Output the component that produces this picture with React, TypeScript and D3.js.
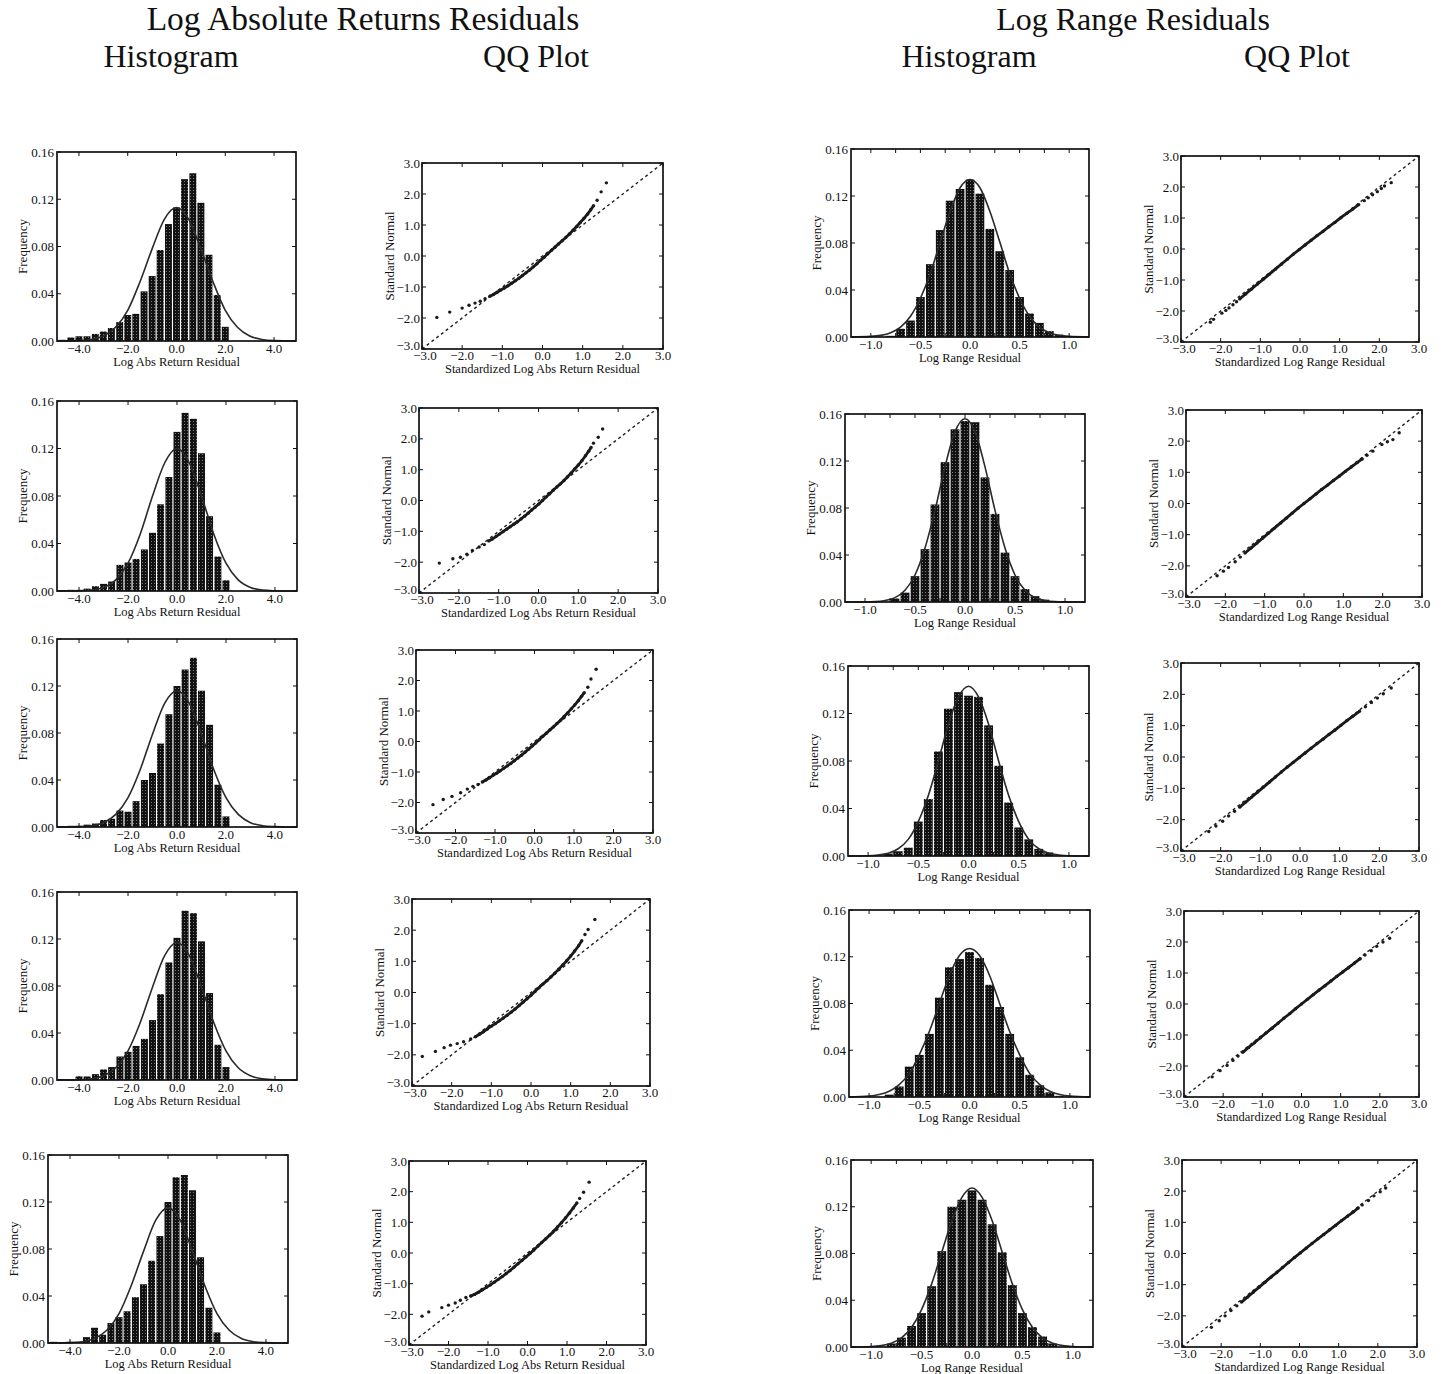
import React from "react";
import * as d3 from "d3";

// ---- histogram data: Log Absolute Returns (bins of 1/3) ----
const absBins = [-4.67, -4.33, -4.0, -3.67, -3.33, -3.0, -2.67, -2.33, -2.0, -1.67, -1.33, -1.0, -0.67, -0.33, 0.0, 0.33, 0.67, 1.0, 1.33, 1.67, 2.0];
const absFreq1 = [0.001, 0.003, 0.004, 0.004, 0.006, 0.008, 0.011, 0.016, 0.022, 0.023, 0.042, 0.055, 0.077, 0.099, 0.113, 0.137, 0.142, 0.117, 0.073, 0.039, 0.012];
const absFreq2 = [0.0006, 0.001, 0.001, 0.002, 0.004, 0.006, 0.008, 0.022, 0.024, 0.027, 0.035, 0.049, 0.073, 0.096, 0.134, 0.15, 0.145, 0.116, 0.063, 0.029, 0.009];
const absFreq3 = [0.0006, 0.001, 0.001, 0.002, 0.003, 0.006, 0.007, 0.014, 0.013, 0.022, 0.04, 0.046, 0.071, 0.096, 0.12, 0.134, 0.144, 0.116, 0.087, 0.036, 0.009];
const absFreq4 = [0.0005, 0.0005, 0.003, 0.003, 0.005, 0.009, 0.011, 0.02, 0.024, 0.029, 0.035, 0.051, 0.073, 0.1, 0.121, 0.144, 0.142, 0.118, 0.074, 0.03, 0.011];
const absFreq5 = [0.001, 0.0005, 0.001, 0.001, 0.005, 0.013, 0.007, 0.017, 0.022, 0.027, 0.039, 0.05, 0.07, 0.091, 0.12, 0.141, 0.143, 0.13, 0.073, 0.03, 0.009];

// fitted normal curve
const absCurveX = [-4.9, -4.5, -4.0, -3.5, -3.0, -2.5, -2.0, -1.5, -1.0, -0.5, 0.0, 0.5, 1.0, 1.5, 2.0, 2.5, 3.0, 3.5, 4.0, 4.5, 4.9];
const absCurve1 = [0, 0.0001, 0.0003, 0.0013, 0.0042, 0.0116, 0.026, 0.05, 0.078, 0.103, 0.113, 0.103, 0.078, 0.05, 0.026, 0.0116, 0.0042, 0.0013, 0.0003, 0.0001, 0];
const absCurve2 = [0, 0, 0.0002, 0.0008, 0.003, 0.0094, 0.0234, 0.048, 0.08, 0.108, 0.12, 0.108, 0.08, 0.048, 0.0234, 0.0094, 0.003, 0.0008, 0.0002, 0, 0];
const absCurve3 = [0, 0, 0.0003, 0.0011, 0.0037, 0.0107, 0.025, 0.049, 0.079, 0.1055, 0.116, 0.1055, 0.079, 0.049, 0.025, 0.0107, 0.0037, 0.0011, 0.0003, 0, 0];
const absCurve4 = [0, 0, 0.0002, 0.001, 0.0036, 0.0104, 0.0248, 0.049, 0.079, 0.106, 0.117, 0.106, 0.079, 0.049, 0.0248, 0.0104, 0.0036, 0.001, 0.0002, 0, 0];
const absCurve5 = [0, 0, 0.0003, 0.0011, 0.0038, 0.0108, 0.025, 0.049, 0.078, 0.1045, 0.115, 0.1045, 0.078, 0.049, 0.025, 0.0108, 0.0038, 0.0011, 0.0003, 0, 0];

// ---- histogram data: Log Range (bins of 0.1) ----
const rangeBins = [-0.8, -0.7, -0.6, -0.5, -0.4, -0.3, -0.2, -0.1, 0.0, 0.1, 0.2, 0.3, 0.4, 0.5, 0.6, 0.7, 0.8, 0.9];
const rangeFreq1 = [0.001, 0.007, 0.014, 0.034, 0.062, 0.091, 0.116, 0.126, 0.134, 0.122, 0.092, 0.073, 0.057, 0.034, 0.02, 0.012, 0.005, 0.002];
const rangeFreq2 = [0.0, 0.003, 0.008, 0.022, 0.045, 0.083, 0.119, 0.147, 0.154, 0.153, 0.106, 0.075, 0.042, 0.022, 0.011, 0.005, 0.002, 0.0];
const rangeFreq3 = [0.002, 0.004, 0.007, 0.029, 0.048, 0.088, 0.124, 0.138, 0.135, 0.134, 0.11, 0.076, 0.045, 0.024, 0.014, 0.006, 0.003, 0.0];
const rangeFreq4 = [0.002, 0.009, 0.026, 0.036, 0.054, 0.085, 0.111, 0.118, 0.124, 0.119, 0.096, 0.077, 0.054, 0.034, 0.019, 0.01, 0.004, 0.001];
const rangeFreq5 = [0.003, 0.008, 0.018, 0.029, 0.052, 0.082, 0.12, 0.126, 0.134, 0.126, 0.105, 0.081, 0.053, 0.029, 0.017, 0.009, 0.003, 0.0];

const rangeCurveX = [-1.2, -1.0, -0.9, -0.8, -0.7, -0.6, -0.5, -0.4, -0.3, -0.2, -0.1, 0.0, 0.1, 0.2, 0.3, 0.4, 0.5, 0.6, 0.7, 0.8, 0.9, 1.0, 1.2];
const rangeCurve1 = [0, 0.0005, 0.0014, 0.0037, 0.0085, 0.0177, 0.033, 0.054, 0.081, 0.107, 0.127, 0.134, 0.127, 0.107, 0.081, 0.054, 0.033, 0.0177, 0.0085, 0.0037, 0.0014, 0.0005, 0];
const rangeCurve2 = [0, 0.0001, 0.0003, 0.0012, 0.0037, 0.01, 0.023, 0.046, 0.078, 0.115, 0.145, 0.156, 0.145, 0.115, 0.078, 0.046, 0.023, 0.01, 0.0037, 0.0012, 0.0003, 0.0001, 0];
const rangeCurve3 = [0, 0.0002, 0.0008, 0.0023, 0.0061, 0.014, 0.029, 0.051, 0.08, 0.111, 0.134, 0.143, 0.134, 0.111, 0.08, 0.051, 0.029, 0.014, 0.0061, 0.0023, 0.0008, 0.0002, 0];
const rangeCurve4 = [0.0001, 0.0008, 0.0021, 0.0049, 0.0106, 0.02, 0.036, 0.056, 0.08, 0.104, 0.121, 0.127, 0.121, 0.104, 0.08, 0.056, 0.036, 0.02, 0.0106, 0.0049, 0.0021, 0.0008, 0.0001];
const rangeCurve5 = [0, 0.0004, 0.0012, 0.0033, 0.0078, 0.0167, 0.032, 0.054, 0.081, 0.108, 0.128, 0.136, 0.128, 0.108, 0.081, 0.054, 0.032, 0.0167, 0.0078, 0.0033, 0.0012, 0.0004, 0];

// ---- QQ data: Log Absolute Returns ----
const absQQTail1 = [[-2.63, -1.98], [-2.31, -1.81], [-2.0, -1.68], [-1.83, -1.59], [-1.68, -1.52], [-1.55, -1.46], [-1.43, -1.38], [1.36, 1.8], [1.46, 2.07], [1.59, 2.36]];
const absQQBody1 = [[-1.31, -1.3], [-1.22, -1.24], [-1.13, -1.17], [-1.04, -1.1], [-0.95, -1.03], [-0.86, -0.96], [-0.77, -0.88], [-0.68, -0.8], [-0.59, -0.72], [-0.5, -0.63], [-0.41, -0.54], [-0.32, -0.45], [-0.23, -0.35], [-0.14, -0.25], [-0.05, -0.14], [0.04, -0.04], [0.13, 0.07], [0.22, 0.18], [0.31, 0.28], [0.4, 0.39], [0.49, 0.49], [0.58, 0.6], [0.67, 0.71], [0.76, 0.83], [0.85, 0.95], [0.94, 1.08], [1.03, 1.21], [1.12, 1.35], [1.2, 1.49], [1.27, 1.62]];
const absQQTail2 = [[-2.49, -2.03], [-2.15, -1.89], [-1.96, -1.84], [-1.8, -1.74], [-1.66, -1.62], [-1.49, -1.51], [-1.36, -1.43], [1.38, 1.86], [1.5, 2.05], [1.61, 2.32]];
const absQQBody2 = [[-1.25, -1.31], [-1.16, -1.25], [-1.07, -1.17], [-0.98, -1.09], [-0.89, -1.01], [-0.8, -0.93], [-0.71, -0.85], [-0.62, -0.77], [-0.53, -0.69], [-0.44, -0.6], [-0.35, -0.51], [-0.26, -0.41], [-0.17, -0.31], [-0.08, -0.21], [0.01, -0.11], [0.1, 0.0], [0.19, 0.11], [0.28, 0.22], [0.37, 0.33], [0.46, 0.44], [0.55, 0.54], [0.64, 0.65], [0.73, 0.77], [0.82, 0.89], [0.91, 1.02], [1.0, 1.15], [1.09, 1.29], [1.18, 1.45], [1.26, 1.6], [1.32, 1.72]];
const absQQTail3 = [[-2.57, -2.07], [-2.31, -1.9], [-2.09, -1.8], [-1.87, -1.68], [-1.7, -1.56], [-1.56, -1.47], [-1.43, -1.41], [1.35, 1.78], [1.43, 2.05], [1.56, 2.37]];
const absQQBody3 = [[-1.32, -1.33], [-1.23, -1.26], [-1.14, -1.19], [-1.05, -1.11], [-0.96, -1.04], [-0.87, -0.96], [-0.78, -0.88], [-0.69, -0.8], [-0.6, -0.72], [-0.51, -0.63], [-0.42, -0.54], [-0.33, -0.45], [-0.24, -0.35], [-0.15, -0.25], [-0.06, -0.15], [0.03, -0.05], [0.12, 0.06], [0.21, 0.17], [0.3, 0.27], [0.39, 0.38], [0.48, 0.48], [0.57, 0.59], [0.66, 0.7], [0.75, 0.82], [0.84, 0.94], [0.93, 1.07], [1.02, 1.2], [1.11, 1.34], [1.19, 1.48], [1.26, 1.6]];
const absQQTail4 = [[-2.74, -2.05], [-2.41, -1.89], [-2.19, -1.77], [-2.03, -1.69], [-1.86, -1.64], [-1.7, -1.58], [-1.52, -1.49], [1.36, 1.86], [1.44, 2.02], [1.61, 2.34]];
const absQQBody4 = [[-1.4, -1.42], [-1.3, -1.34], [-1.2, -1.26], [-1.1, -1.17], [-1.0, -1.08], [-0.9, -1.0], [-0.8, -0.91], [-0.7, -0.82], [-0.6, -0.73], [-0.5, -0.63], [-0.4, -0.53], [-0.3, -0.42], [-0.2, -0.31], [-0.1, -0.2], [0.0, -0.09], [0.1, 0.03], [0.2, 0.15], [0.3, 0.27], [0.4, 0.38], [0.5, 0.5], [0.6, 0.62], [0.7, 0.75], [0.8, 0.88], [0.9, 1.02], [1.0, 1.17], [1.1, 1.33], [1.2, 1.5], [1.28, 1.66]];
const absQQTail5 = [[-2.67, -2.06], [-2.5, -1.92], [-2.17, -1.78], [-2.0, -1.7], [-1.83, -1.63], [-1.7, -1.54], [-1.56, -1.45], [1.32, 1.78], [1.42, 1.98], [1.56, 2.31]];
const absQQBody5 = [[-1.44, -1.4], [-1.34, -1.35], [-1.24, -1.28], [-1.14, -1.2], [-1.04, -1.12], [-0.94, -1.04], [-0.84, -0.95], [-0.74, -0.86], [-0.64, -0.77], [-0.54, -0.67], [-0.44, -0.57], [-0.34, -0.46], [-0.24, -0.35], [-0.14, -0.24], [-0.04, -0.13], [0.06, -0.02], [0.16, 0.1], [0.26, 0.22], [0.36, 0.34], [0.46, 0.46], [0.56, 0.58], [0.66, 0.71], [0.76, 0.85], [0.86, 0.99], [0.96, 1.14], [1.06, 1.3], [1.16, 1.47], [1.25, 1.63]];

// ---- QQ data: Log Range ----
const rangeQQTail1 = [[-2.26, -2.36], [-2.18, -2.27], [-1.97, -2.07], [-1.87, -1.98], [-1.79, -1.9], [-1.69, -1.8], [-1.6, -1.7], [1.62, 1.56], [1.72, 1.65], [1.83, 1.75], [1.95, 1.85], [2.05, 1.95], [2.13, 2.03], [2.3, 2.14]];
const rangeQQBody1 = [[-1.52, -1.61], [-1.37, -1.45], [-1.22, -1.29], [-1.07, -1.13], [-0.92, -0.97], [-0.77, -0.81], [-0.62, -0.65], [-0.47, -0.49], [-0.32, -0.33], [-0.17, -0.17], [-0.02, -0.02], [0.13, 0.13], [0.28, 0.28], [0.43, 0.43], [0.58, 0.57], [0.73, 0.72], [0.88, 0.86], [1.03, 1.01], [1.18, 1.15], [1.33, 1.29], [1.48, 1.43]];
const rangeQQTail2 = [[-2.21, -2.32], [-2.05, -2.17], [-1.92, -2.05], [-1.75, -1.87], [-1.62, -1.72], [1.6, 1.55], [1.75, 1.68], [1.98, 1.89], [2.12, 1.98], [2.26, 2.05], [2.42, 2.27]];
const rangeQQBody2 = [[-1.5, -1.59], [-1.35, -1.43], [-1.2, -1.27], [-1.05, -1.11], [-0.9, -0.95], [-0.75, -0.79], [-0.6, -0.63], [-0.45, -0.47], [-0.3, -0.31], [-0.15, -0.15], [0.0, 0.0], [0.15, 0.15], [0.3, 0.3], [0.45, 0.45], [0.6, 0.59], [0.75, 0.74], [0.9, 0.88], [1.05, 1.03], [1.2, 1.17], [1.35, 1.31], [1.48, 1.43]];
const rangeQQTail3 = [[-2.3, -2.38], [-2.12, -2.2], [-1.95, -2.05], [-1.8, -1.88], [-1.65, -1.73], [1.65, 1.6], [1.8, 1.74], [1.95, 1.88], [2.1, 2.02], [2.3, 2.2]];
const rangeQQBody3 = [[-1.52, -1.6], [-1.37, -1.44], [-1.22, -1.28], [-1.07, -1.12], [-0.92, -0.96], [-0.77, -0.8], [-0.62, -0.64], [-0.47, -0.48], [-0.32, -0.32], [-0.17, -0.17], [-0.02, -0.02], [0.13, 0.13], [0.28, 0.28], [0.43, 0.43], [0.58, 0.57], [0.73, 0.72], [0.88, 0.86], [1.03, 1.01], [1.18, 1.16], [1.33, 1.3], [1.5, 1.46]];
const rangeQQTail4 = [[-2.28, -2.35], [-2.08, -2.15], [-1.9, -1.98], [-1.75, -1.82], [-1.62, -1.68], [1.62, 1.58], [1.78, 1.72], [1.92, 1.86], [2.08, 2.0], [2.25, 2.12]];
const rangeQQBody4 = [[-1.5, -1.56], [-1.35, -1.4], [-1.2, -1.25], [-1.05, -1.09], [-0.9, -0.93], [-0.75, -0.78], [-0.6, -0.62], [-0.45, -0.46], [-0.3, -0.31], [-0.15, -0.15], [0.0, 0.0], [0.15, 0.15], [0.3, 0.3], [0.45, 0.45], [0.6, 0.59], [0.75, 0.74], [0.9, 0.89], [1.05, 1.03], [1.2, 1.17], [1.35, 1.32], [1.5, 1.46]];
const rangeQQTail5 = [[-2.25, -2.37], [-2.05, -2.16], [-1.9, -2.0], [-1.75, -1.83], [-1.6, -1.68], [1.6, 1.56], [1.76, 1.7], [1.9, 1.85], [2.06, 1.98], [2.2, 2.1]];
const rangeQQBody5 = [[-1.48, -1.56], [-1.33, -1.4], [-1.18, -1.24], [-1.03, -1.08], [-0.88, -0.92], [-0.73, -0.76], [-0.58, -0.61], [-0.43, -0.45], [-0.28, -0.29], [-0.13, -0.13], [0.02, 0.02], [0.17, 0.17], [0.32, 0.32], [0.47, 0.47], [0.62, 0.61], [0.77, 0.76], [0.92, 0.9], [1.07, 1.05], [1.22, 1.19], [1.37, 1.33], [1.5, 1.46]];

// ---- ticks ----
const freqTicks = [0, 0.04, 0.08, 0.12, 0.16];
const absHistTicks = [-4, -2, 0, 2, 4];
const rangeHistTicks = [-1, -0.5, 0, 0.5, 1];
const rangeHistMinor = [-1, -0.75, -0.5, -0.25, 0, 0.25, 0.5, 0.75, 1];
const qqTicks = [-3, -2, -1, 0, 1, 2, 3];
const qqRefLine = [-3, 3];

// ---- layout ----
const absHistBoxes = [
  { x: 57, y: 152, w: 239, h: 189 },
  { x: 57, y: 401, w: 240, h: 190 },
  { x: 57, y: 639, w: 240, h: 188 },
  { x: 57, y: 892, w: 240, h: 188 },
  { x: 48, y: 1155, w: 240, h: 188 },
];
const absQQBoxes = [
  { x: 422, y: 163, w: 241, h: 186 },
  { x: 419, y: 408, w: 239, h: 185 },
  { x: 416, y: 650, w: 237, h: 183 },
  { x: 412, y: 899, w: 238, h: 187 },
  { x: 409, y: 1161, w: 237, h: 184 },
];
const rangeHistBoxes = [
  { x: 851, y: 149, w: 238, h: 188 },
  { x: 845, y: 414, w: 240, h: 188 },
  { x: 848, y: 666, w: 241, h: 190 },
  { x: 849, y: 910, w: 241, h: 187 },
  { x: 851, y: 1160, w: 242, h: 187 },
];
const rangeQQBoxes = [
  { x: 1181, y: 156, w: 238, h: 186 },
  { x: 1186, y: 410, w: 236, h: 187 },
  { x: 1181, y: 663, w: 238, h: 188 },
  { x: 1184, y: 911, w: 235, h: 186 },
  { x: 1182, y: 1160, w: 235, h: 187 },
];

const FONT = "'Liberation Serif', 'Times New Roman', serif";
const INK = "#111";

const fmt1 = (t: number) => (t < 0 ? "\u2212" : "") + Math.abs(t).toFixed(1);

type Box = { x: number; y: number; w: number; h: number };

function Frame({ box }: { box: Box }) {
  return (
    <rect x={box.x} y={box.y} width={box.w} height={box.h} fill="none" stroke={INK} strokeWidth={1.7} />
  );
}

function HistPanel({ box, bins, freq, binWidth, curveX, curveY, domain, ticks, minor, xLabel }: any) {
  const x = d3.scaleLinear().domain(domain).range([box.x, box.x + box.w]);
  const y = d3.scaleLinear().domain([0, 0.16]).range([box.y + box.h, box.y]);
  const line = d3
    .line<number>()
    .x((d, i) => x(curveX[i]))
    .y((d) => y(d))
    .curve(d3.curveMonotoneX);
  const bottom = box.y + box.h;
  const tickX = minor || ticks;
  return (
    <g>
      {bins.map((c: number, i: number) => {
        const x0 = x(c - binWidth / 2) + 0.6;
        const x1 = x(c + binWidth / 2) - 0.6;
        const top = y(freq[i]);
        if (freq[i] <= 0) return null;
        return <rect key={i} x={x0} y={top} width={x1 - x0} height={bottom - top} fill="url(#barTex)" />;
      })}
      <path d={line(curveY) || ""} fill="none" stroke="#2a2a2a" strokeWidth={1.6} />
      <Frame box={box} />
      {tickX.map((t: number) => (
        <g key={"xt" + t}>
          <line x1={x(t)} x2={x(t)} y1={bottom} y2={bottom - 4} stroke={INK} strokeWidth={1} />
          <line x1={x(t)} x2={x(t)} y1={box.y} y2={box.y + 4} stroke={INK} strokeWidth={1} />
        </g>
      ))}
      {freqTicks.map((t) => (
        <g key={"yt" + t}>
          <line x1={box.x} x2={box.x + 4} y1={y(t)} y2={y(t)} stroke={INK} strokeWidth={1} />
          <line x1={box.x + box.w} x2={box.x + box.w - 4} y1={y(t)} y2={y(t)} stroke={INK} strokeWidth={1} />
          <text x={box.x - 3} y={y(t) + 4.5} textAnchor="end" fontSize={13}>
            {t.toFixed(2)}
          </text>
        </g>
      ))}
      {ticks.map((t: number) => (
        <text key={"xl" + t} x={x(t)} y={bottom + 12} textAnchor="middle" fontSize={13}>
          {fmt1(t)}
        </text>
      ))}
      <text x={box.x + box.w / 2} y={bottom + 24.5} textAnchor="middle" fontSize={12.5}>
        {xLabel}
      </text>
      <text
        transform={`translate(${box.x - 30},${box.y + box.h / 2}) rotate(-90)`}
        textAnchor="middle"
        fontSize={13}
      >
        Frequency
      </text>
    </g>
  );
}

function QQPanel({ box, tail, body, xLabel }: any) {
  const x = d3.scaleLinear().domain([-3, 3]).range([box.x, box.x + box.w]);
  const y = d3.scaleLinear().domain([-3, 3]).range([box.y + box.h, box.y]);
  const line = d3
    .line<number[]>()
    .x((d) => x(d[0]))
    .y((d) => y(d[1]));
  const bottom = box.y + box.h;
  const ref = qqRefLine.map((v) => [v, v]);
  return (
    <g>
      <path d={line(ref) || ""} stroke="#222" strokeWidth={1.4} strokeDasharray="3,3" fill="none" />
      <path d={line(body) || ""} stroke="#1a1a1a" strokeWidth={2.8} fill="none" />
      {body.map((d: number[], i: number) => (
        <circle key={"b" + i} cx={x(d[0])} cy={y(d[1])} r={1.7} fill="#1a1a1a" />
      ))}
      {tail.map((d: number[], i: number) => (
        <circle key={"t" + i} cx={x(d[0])} cy={y(d[1])} r={1.7} fill="#1a1a1a" />
      ))}
      <Frame box={box} />
      {qqTicks.map((t) => (
        <g key={"t" + t}>
          <line x1={x(t)} x2={x(t)} y1={bottom} y2={bottom - 4} stroke={INK} strokeWidth={1} />
          <line x1={x(t)} x2={x(t)} y1={box.y} y2={box.y + 4} stroke={INK} strokeWidth={1} />
          <line x1={box.x} x2={box.x + 4} y1={y(t)} y2={y(t)} stroke={INK} strokeWidth={1} />
          <line x1={box.x + box.w} x2={box.x + box.w - 4} y1={y(t)} y2={y(t)} stroke={INK} strokeWidth={1} />
          <text x={box.x - 2} y={y(t) + (t === -3 ? 1 : 4.5)} textAnchor="end" fontSize={13}>
            {fmt1(t)}
          </text>
          <text x={x(t) + (t === -3 ? 3 : 0)} y={bottom + 11} textAnchor="middle" fontSize={13}>
            {fmt1(t)}
          </text>
        </g>
      ))}
      <text x={box.x + box.w / 2} y={bottom + 23.5} textAnchor="middle" fontSize={12.5}>
        {xLabel}
      </text>
      <text
        transform={`translate(${box.x - 28},${box.y + box.h / 2}) rotate(-90)`}
        textAnchor="middle"
        fontSize={13}
      >
        Standard Normal
      </text>
    </g>
  );
}

export default function App() {
  const absFreqs = [absFreq1, absFreq2, absFreq3, absFreq4, absFreq5];
  const absCurves = [absCurve1, absCurve2, absCurve3, absCurve4, absCurve5];
  const rangeFreqs = [rangeFreq1, rangeFreq2, rangeFreq3, rangeFreq4, rangeFreq5];
  const rangeCurves = [rangeCurve1, rangeCurve2, rangeCurve3, rangeCurve4, rangeCurve5];
  const absTails = [absQQTail1, absQQTail2, absQQTail3, absQQTail4, absQQTail5];
  const absBodies = [absQQBody1, absQQBody2, absQQBody3, absQQBody4, absQQBody5];
  const rangeTails = [rangeQQTail1, rangeQQTail2, rangeQQTail3, rangeQQTail4, rangeQQTail5];
  const rangeBodies = [rangeQQBody1, rangeQQBody2, rangeQQBody3, rangeQQBody4, rangeQQBody5];

  return (
    <svg
      width={1451}
      height={1374}
      style={{ position: "absolute", left: 0, top: 0, background: "#fff" }}
      fontFamily={FONT}
      fill={INK}
    >
      <defs>
        <pattern id="barTex" width={3} height={3} patternUnits="userSpaceOnUse">
          <rect width={3} height={3} fill="#121212" />
          <rect x={1} y={1} width={1} height={1} fill="#7a7a7a" />
        </pattern>
      </defs>
      <rect width={1451} height={1374} fill="#fff" />

      <text x={363} y={30} textAnchor="middle" fontSize={33.5}>Log Absolute Returns Residuals</text>
      <text x={171} y={67} textAnchor="middle" fontSize={32}>Histogram</text>
      <text x={536} y={67} textAnchor="middle" fontSize={32}>QQ Plot</text>
      <text x={1133} y={30} textAnchor="middle" fontSize={32}>Log Range Residuals</text>
      <text x={969} y={67} textAnchor="middle" fontSize={32}>Histogram</text>
      <text x={1297} y={67} textAnchor="middle" fontSize={32}>QQ Plot</text>

      {absHistBoxes.map((b, i) => (
        <HistPanel
          key={"ah" + i}
          box={b}
          bins={absBins}
          freq={absFreqs[i]}
          binWidth={1 / 3}
          curveX={absCurveX}
          curveY={absCurves[i]}
          domain={[-4.9, 4.9]}
          ticks={absHistTicks}
          xLabel="Log Abs Return Residual"
        />
      ))}
      {absQQBoxes.map((b, i) => (
        <QQPanel key={"aq" + i} box={b} tail={absTails[i]} body={absBodies[i]} xLabel="Standardized Log Abs Return Residual" />
      ))}
      {rangeHistBoxes.map((b, i) => (
        <HistPanel
          key={"rh" + i}
          box={b}
          bins={rangeBins}
          freq={rangeFreqs[i]}
          binWidth={0.1}
          curveX={rangeCurveX}
          curveY={rangeCurves[i]}
          domain={[-1.2, 1.2]}
          ticks={rangeHistTicks}
          minor={rangeHistMinor}
          xLabel="Log Range Residual"
        />
      ))}
      {rangeQQBoxes.map((b, i) => (
        <QQPanel key={"rq" + i} box={b} tail={rangeTails[i]} body={rangeBodies[i]} xLabel="Standardized Log Range Residual" />
      ))}
    </svg>
  );
}
